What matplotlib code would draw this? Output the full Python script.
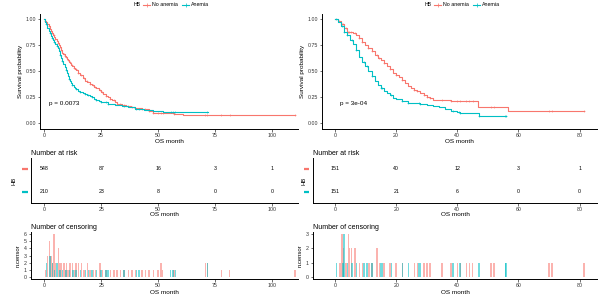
import numpy as np
import matplotlib
matplotlib.use("Agg")
import matplotlib.pyplot as plt
from matplotlib.lines import Line2D

plt.rcParams['font.family'] = ['Liberation Sans', 'DejaVu Sans']

RED = '#F8766D'
TEAL = '#00BFC4'
groups = ['No anemia', 'Anemia']

# ---- left panel data ----
l_no_t = [0, 0.5, 1, 1.5, 2, 2.5, 3, 3.5, 4, 4.5, 5, 5.5, 6, 6.5, 7, 7.5, 8, 8.5, 9, 9.5, 10, 10.5, 11, 11.5, 12,
          12.5, 13, 13.5, 14, 15, 16, 17, 18, 19, 20, 21, 22, 23, 24, 25, 26, 27, 28, 29, 30, 31, 32, 34, 36, 38,
          40, 43, 46, 48, 52, 57, 61, 110]
l_no_s = [1.0, 0.985, 0.97, 0.95, 0.93, 0.91, 0.89, 0.87, 0.85, 0.83, 0.81, 0.79, 0.77, 0.75, 0.73, 0.705, 0.68,
          0.665, 0.65, 0.635, 0.62, 0.605, 0.59, 0.575, 0.56, 0.547, 0.535, 0.522, 0.51, 0.485, 0.46, 0.435, 0.41,
          0.395, 0.38, 0.365, 0.35, 0.335, 0.32, 0.30, 0.28, 0.265, 0.25, 0.235, 0.22, 0.205, 0.19, 0.18, 0.17,
          0.16, 0.15, 0.14, 0.12, 0.10, 0.095, 0.09, 0.075, 0.075]
l_an_t = [0, 0.5, 1, 1.5, 2, 2.5, 3, 3.5, 4, 4.5, 5, 5.5, 6, 6.5, 7, 7.5, 8, 8.5, 9, 9.5, 10, 10.5, 11, 11.5, 12,
          12.5, 13, 13.5, 14, 15, 16, 17, 18, 19, 20, 21, 22, 23, 24, 25, 28, 31, 34, 37, 40, 44, 48, 52, 72]
l_an_s = [1.0, 0.975, 0.95, 0.92, 0.89, 0.865, 0.84, 0.82, 0.80, 0.78, 0.76, 0.74, 0.72, 0.69, 0.66, 0.63, 0.60,
          0.57, 0.54, 0.51, 0.48, 0.455, 0.43, 0.41, 0.39, 0.37, 0.35, 0.34, 0.33, 0.31, 0.30, 0.29, 0.28, 0.27,
          0.26, 0.25, 0.235, 0.22, 0.21, 0.20, 0.19, 0.18, 0.17, 0.16, 0.14, 0.13, 0.12, 0.11, 0.11]

l_risk_t = [0, 25, 50, 75, 100]
l_risk_no = [548, 87, 16, 3, 1]
l_risk_an = [210, 23, 8, 0, 0]

l_cen_no_t = [0.5, 1.5, 2.2, 3, 3.5, 4.3, 5, 6.2, 7, 7.6, 8.6, 9.2, 9.8, 10.5, 11.3, 12.4, 13.2, 13.9, 15, 16.4,
              17.5, 18.9, 20, 21.5, 22.5, 24.5, 25.5, 27, 29, 30.5, 32, 33.5, 35, 37, 38.5, 40, 43, 44.5, 46, 48,
              50, 51.2, 52, 57, 70.7, 71.7, 77.7, 81.4, 110]
l_cen_no_n = [1, 3, 5, 3, 2, 6, 2, 4, 2, 2, 2, 1, 2, 1, 2, 2, 1, 2, 2, 2,
              1, 2, 1, 1, 1, 2, 1, 1, 1, 1, 1, 1, 1, 1, 1, 1, 1, 1, 1, 1,
              1, 2, 1, 1, 2, 2, 1, 1, 1]
l_cen_an_t = [1, 2.5, 3.5, 4.5, 5.5, 7, 8, 9.5, 11, 12.5, 14, 16, 18, 19.5, 21, 23, 25, 27, 28, 35, 40.5, 41.5, 55.5, 56.5, 57.5, 71.7]
l_cen_an_n = [2, 3, 2, 1, 2, 1, 1, 1, 1, 1, 1, 1, 1, 1, 1, 1, 1, 1, 1, 1, 1, 1, 1, 1, 1, 2]

# ---- right panel data ----
r_no_t = [0, 1, 2, 3, 4, 6, 7, 8, 9, 10, 11, 12, 13, 14, 15, 16, 17, 18, 19, 20, 21, 22, 23, 24, 25, 26, 27, 28, 29, 30, 31, 32, 38, 39, 46.8, 56.6, 81.5]
r_no_s = [1.0, 0.98, 0.95, 0.92, 0.88, 0.87, 0.85, 0.82, 0.78, 0.75, 0.72, 0.69, 0.66, 0.63, 0.61, 0.58, 0.55, 0.52, 0.48, 0.46, 0.44, 0.42, 0.39, 0.36, 0.34, 0.32, 0.31, 0.29, 0.27, 0.25, 0.24, 0.22, 0.215, 0.21, 0.155, 0.115, 0.115]
r_an_t = [0, 1, 2, 3, 4, 5, 6, 7, 8, 9, 10, 11, 12, 13, 14, 15, 16, 17, 18, 19, 20, 22, 24, 28, 30, 32, 34, 36, 38, 40, 41, 47, 56]
r_an_s = [1.0, 0.97, 0.93, 0.88, 0.85, 0.80, 0.76, 0.70, 0.64, 0.59, 0.55, 0.50, 0.45, 0.41, 0.37, 0.34, 0.31, 0.29, 0.27, 0.245, 0.235, 0.21, 0.195, 0.19, 0.18, 0.17, 0.16, 0.14, 0.12, 0.11, 0.10, 0.07, 0.07]

r_risk_t = [0, 20, 40, 60, 80]
r_risk_no = [151, 40, 12, 3, 1]
r_risk_an = [151, 21, 6, 0, 0]

r_cen_no_t = [1.5, 2.2, 2.7, 3.5, 4.35, 4.7, 5.4, 6.5, 8, 9, 11, 12, 13.8, 14.5, 16, 18, 20, 22, 26, 27,
              29, 30, 31, 35, 38, 40, 41, 43, 44, 45, 51, 52, 70, 71, 81.5]
r_cen_no_n = [1, 3, 2, 1, 3, 2, 2, 2, 1, 1, 1, 1, 2, 1, 1, 1, 1, 1, 1, 1,
              1, 1, 1, 1, 1, 1, 1, 1, 1, 1, 1, 1, 1, 1, 1]
r_cen_an_t = [0.5, 2.5, 3.0, 4, 5.5, 7, 9.5, 10.5, 12, 15, 15.5, 18.5, 22, 24, 27.5, 28, 38.5, 40.7, 41, 47, 55.7, 56]
r_cen_an_n = [1, 1, 3, 1, 1, 1, 1, 1, 1, 1, 1, 1, 1, 1, 1, 1, 1, 1, 1, 1, 1, 1]

W, H = 600, 300
fig = plt.figure(figsize=(6, 3), dpi=100, facecolor='white')


def px_axes(l, t, r, b):
    return fig.add_axes([l / W, 1 - b / H, (r - l) / W, (b - t) / H])


def style(ax):
    for s in ['top', 'right']:
        ax.spines[s].set_visible(False)
    for s in ['left', 'bottom']:
        ax.spines[s].set_linewidth(0.7)
    ax.tick_params(labelsize=3.8, length=1.8, width=0.5, pad=1.2, colors='#333333')


def step_at(t, s, x):
    i = np.searchsorted(t, x, side='right') - 1
    return np.asarray(s)[i]


def draw_panel(x0, x_right, xlim, xticks, curves, risk, cens, pval, cen_ymax, cen_lim, lab_x):
    # survival curves
    ax = px_axes(x0, 14, x_right, 128.5)
    style(ax)
    for (t, s, ct), col in zip(curves, [RED, TEAL]):
        ax.step(t, s, where='post', color=col, lw=0.8)
        ct = [c for c in ct if c <= t[-1]]
        ax.plot(ct, step_at(t, s, ct), ls='none', marker='+', ms=2.0, mew=0.4, color=col)
    ax.set_xlim(xlim)
    ax.set_ylim(-0.05, 1.05)
    ax.set_xticks(xticks)
    ax.set_yticks([0, 0.25, 0.5, 0.75, 1.0])
    ax.set_yticklabels(['0.00', '0.25', '0.50', '0.75', '1.00'])
    ax.set_ylabel('Survival probability', fontsize=4.6, labelpad=2)
    ax.set_xlabel('OS month', fontsize=4.6, labelpad=1)
    ax.text(pval[0], 0.19, pval[1], fontsize=4.6, va='center')

    # risk table
    tl = x0 - 9
    ax2 = px_axes(tl, 157.5, x_right, 203)
    style(ax2)
    rt, rno, ran = risk
    for y, vals in [(2, rno), (1, ran)]:
        for tt, v in zip(rt, vals):
            ax2.text(tt, y, str(v), fontsize=3.8, ha='center', va='center')
    ax2.set_xlim(xlim[0] - (xlim[1] - xlim[0]) * 9 / (x_right - x0 - 9), xlim[1])
    ax2.set_ylim(0.5, 2.5)
    ax2.set_xticks(xticks)
    ax2.set_yticks([2, 1])
    ax2.set_yticklabels(['', ''])
    ax2.tick_params(axis='y', length=0)
    # coloured strata keys left of the table
    wpx = x_right - tl
    for y, col in zip([2, 1], [RED, TEAL]):
        ax2.plot([-9 / wpx, -3.5 / wpx], [y, y], transform=ax2.get_yaxis_transform(), color=col,
                 lw=1.6, solid_capstyle='butt', clip_on=False)
    ax2.set_xlabel('OS month', fontsize=4.6, labelpad=0)
    ax2.set_title('Number at risk', fontsize=5, loc='left', pad=2, x=0.0)
    fig.text(lab_x / W, 1 - 181 / H, 'HB', rotation=90, fontsize=4.2, ha='center', va='center')

    # number of censoring
    ax3 = px_axes(tl, 232, x_right, 279)
    style(ax3)
    (ntn, nnn), (ant, ann) = cens
    bw = 0.65 * (xlim[1] - xlim[0]) / 112
    ax3.bar(ntn, nnn, width=bw, color=RED, alpha=0.55, lw=0)
    ax3.bar(ant, ann, width=bw, color=TEAL, alpha=0.55, lw=0)
    ax3.set_xlim(ax2.get_xlim())
    ax3.set_ylim(cen_lim)
    ax3.set_xticks(xticks)
    ax3.set_yticks(range(cen_ymax + 1))
    ax3.set_ylabel('n.censor', fontsize=4.2, labelpad=2)
    ax3.set_xlabel('OS month', fontsize=4.6, labelpad=1)
    ax3.set_title('Number of censoring', fontsize=5, loc='left', pad=2)


draw_panel(40, 298, (-1.75, 111.4), [0, 25, 50, 75, 100],
           [(l_no_t, l_no_s, l_cen_no_t), (l_an_t, l_an_s, l_cen_an_t)],
           (l_risk_t, l_risk_no, l_risk_an),
           ((l_cen_no_t, l_cen_no_n), (l_cen_an_t, l_cen_an_n)),
           (2.3, 'p = 0.0073'), 6, (-0.3, 6.3), 14)

draw_panel(322, 597, (-4.2, 85.7), [0, 20, 40, 60, 80],
           [(r_no_t, r_no_s, r_cen_no_t), (r_an_t, r_an_s, r_cen_an_t)],
           (r_risk_t, r_risk_no, r_risk_an),
           ((r_cen_no_t, r_cen_no_n), (r_cen_an_t, r_cen_an_n)),
           (1.6, 'p = 3e-04'), 3, (-0.15, 3.15), 304)


# legends on top
def legend(x):
    y = 1 - 4.5 / H
    fig.text(x / W, y, 'HB', fontsize=3.8, va='center')
    pos = x + 9
    for g, col in zip(groups, [RED, TEAL]):
        fig.add_artist(Line2D([pos / W, (pos + 7) / W], [y, y], color=col, lw=0.8,
                              transform=fig.transFigure))
        fig.add_artist(Line2D([(pos + 3.5) / W], [y], color=col, marker='+', ms=2.5, mew=0.5,
                              transform=fig.transFigure))
        fig.text((pos + 9) / W, y, g, fontsize=3.8, va='center')
        pos += 9 + len(g) * 2.7 + 6


legend(134)
legend(425)

fig.savefig('out.png', dpi=100, facecolor='white')
